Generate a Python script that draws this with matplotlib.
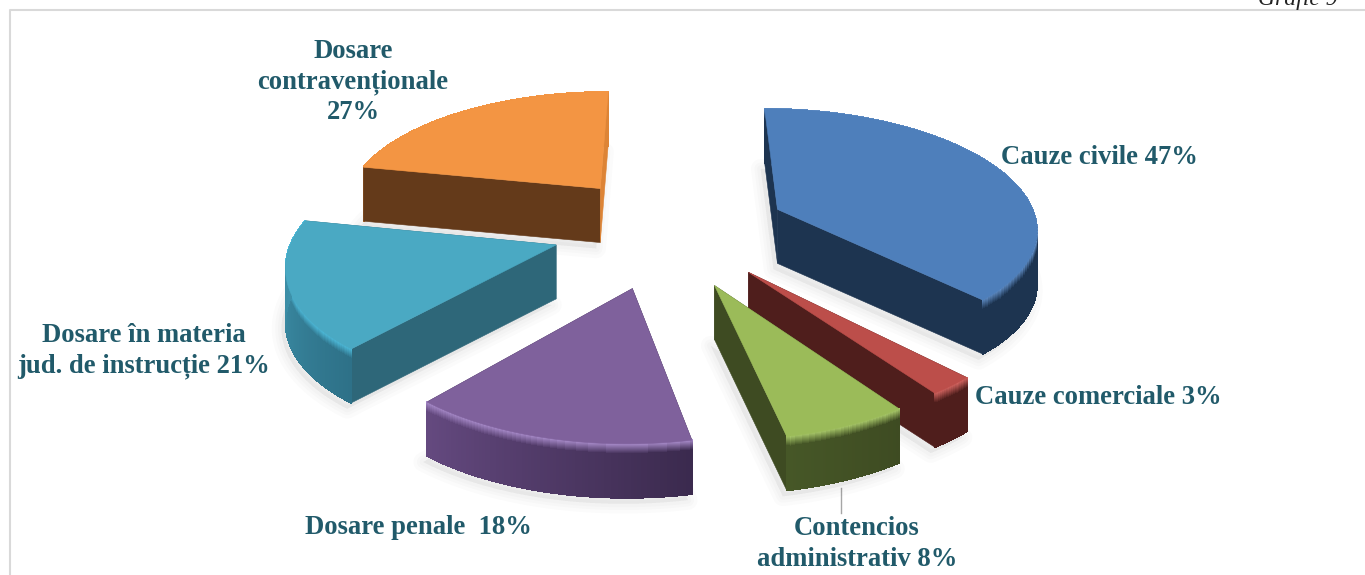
import numpy as np
import matplotlib
matplotlib.use("Agg")
import matplotlib.pyplot as plt
from matplotlib.collections import PolyCollection
from matplotlib.colors import to_rgb

categories = ["Cauze civile", "Cauze comerciale", "Contencios\nadministrativ",
              "Dosare penale ", "Dosare în materia\njud. de instrucție",
              "Dosare\ncontravenționale"]
values = [47, 3, 8, 18, 21, 27]
separators = [" ", " ", " ", " ", " ", "\n"]

# colours and camera, all by eye
top_col = ["#4E7FBB", "#BC4E4A", "#9BBB59", "#7F619C", "#4AA9C3", "#F39543"]
cut_col = ["#1D3450", "#4F1E1C", "#3E4B22", "#3B2A4E", "#2E6779", "#643A1A"]
rim_a = ["#1D3450", "#4F1E1C", "#3E4B22", "#3B2A4E", "#2E7188", "#DD8436"]
rim_b = ["#1D3450", "#4F1E1C", "#465727", "#64497F", "#4097B0", "#DD8436"]
glow = ["#5F8CC4", "#CF625E", "#A9C96A", "#A98CCB", "#4FBEDE", "#F39543"]
explode = [125, 120, 121, 119, 113, 117]
nudge_x = [0, 5, 0, 0, 1, 7]
nudge_y = [0, -2, 2, 3, -2, -2]
label_x = [1099, 1098, 857, 418, 144, 353]
label_y = [157, 398, 544, 528, 351, 82]
draw_order = [0, 5, 4, 1, 2, 3]

R = 261
cam = 0.0005
cx, cy, horizon = 664, 230, -680
depth = 54
teal = "#215A6A"


def project(X, Y):
    s = 1 / (1 + cam * np.asarray(Y, dtype=float))
    return cx + np.asarray(X) * s, horizon + (cy - horizon) * s


def mix(a, b, t):
    a, b = np.array(to_rgb(a)), np.array(to_rgb(b))
    return tuple(a + (b - a) * t)


fig = plt.figure(figsize=(13.65, 5.75), dpi=100)
ax = fig.add_axes([0, 0, 1, 1])
ax.set_xlim(0, 1365)
ax.set_ylim(575, 0)
ax.axis("off")

ax.plot([10, 10, 1365], [575, 10, 10], color="#D9D9D9", lw=1.5, zorder=1)
ax.text(1338, 5, "Grafic 9", family="Liberation Serif", style="italic",
        fontsize=17, ha="right", va="baseline", color="#222222")
ax.plot([841, 841], [488, 513], color="#A6A6A6", lw=1, zorder=1)

angles = np.cumsum([0] + values) / sum(values) * 2 * np.pi

z = 2
for i in draw_order:
    a0, a1 = angles[i], angles[i + 1]
    mid = (a0 + a1) / 2
    ox, oy = explode[i] * np.sin(mid), explode[i] * np.cos(mid)
    th = np.linspace(a0, a1, 90)
    rx, ry = project(ox + R * np.sin(th), oy + R * np.cos(th))
    ax_, ay_ = project([ox], [oy])
    rx, ry = rx + nudge_x[i], ry + nudge_y[i]
    ax_, ay_ = ax_ + nudge_x[i], ay_ + nudge_y[i]
    px = np.r_[ax_, rx]
    py = np.r_[ay_, ry]

    # soft shadow under the slice
    for lw in [14, 9, 5]:
        ax.fill(px - 4, py + depth + 6, color="#000000", alpha=0.014, lw=lw,
                joinstyle="round", zorder=z)
    z += 1

    # the orange slice shows its cut face in front of the wall, the others behind
    cut_z = z + 1 if i == 5 else z - 0.5
    for k in [0, -1]:
        fx = [ax_[0], rx[k], rx[k], ax_[0]]
        fy = [ay_[0], ry[k], ry[k] + depth, ay_[0] + depth]
        col = cut_col[i]
        if i == 5 and k == -1:
            col = rim_a[i]
        ax.fill(fx, fy, color=col, lw=0.4, zorder=cut_z)

    # outer wall, shaded along the arc and lit at its upper edge
    rows = np.r_[np.linspace(0, 11, 12), depth]
    quads = []
    cols = []
    for n in range(len(th) - 1):
        base = mix(rim_a[i], rim_b[i], n / (len(th) - 2))
        for j in range(len(rows) - 1):
            quads.append([(rx[n], ry[n] + rows[j]), (rx[n + 1], ry[n + 1] + rows[j]),
                          (rx[n + 1], ry[n + 1] + rows[j + 1]), (rx[n], ry[n] + rows[j + 1])])
            cols.append(mix(glow[i], base, min(1, j / 10)))
    ax.add_collection(PolyCollection(quads, facecolors=cols, edgecolors=cols,
                                     linewidths=0.6, antialiased=False, zorder=z))
    z += 2

    ax.fill(px, py, color=top_col[i], lw=0.4, zorder=z)
    z += 1

for i in range(len(values)):
    txt = categories[i] + separators[i] + str(values[i]) + "%"
    ax.text(label_x[i], label_y[i], txt, family="Liberation Serif", weight="bold",
            fontsize=19.2, color=teal, ha="center", va="center",
            linespacing=1.3, zorder=50)

plt.savefig("out.png", dpi=100)
